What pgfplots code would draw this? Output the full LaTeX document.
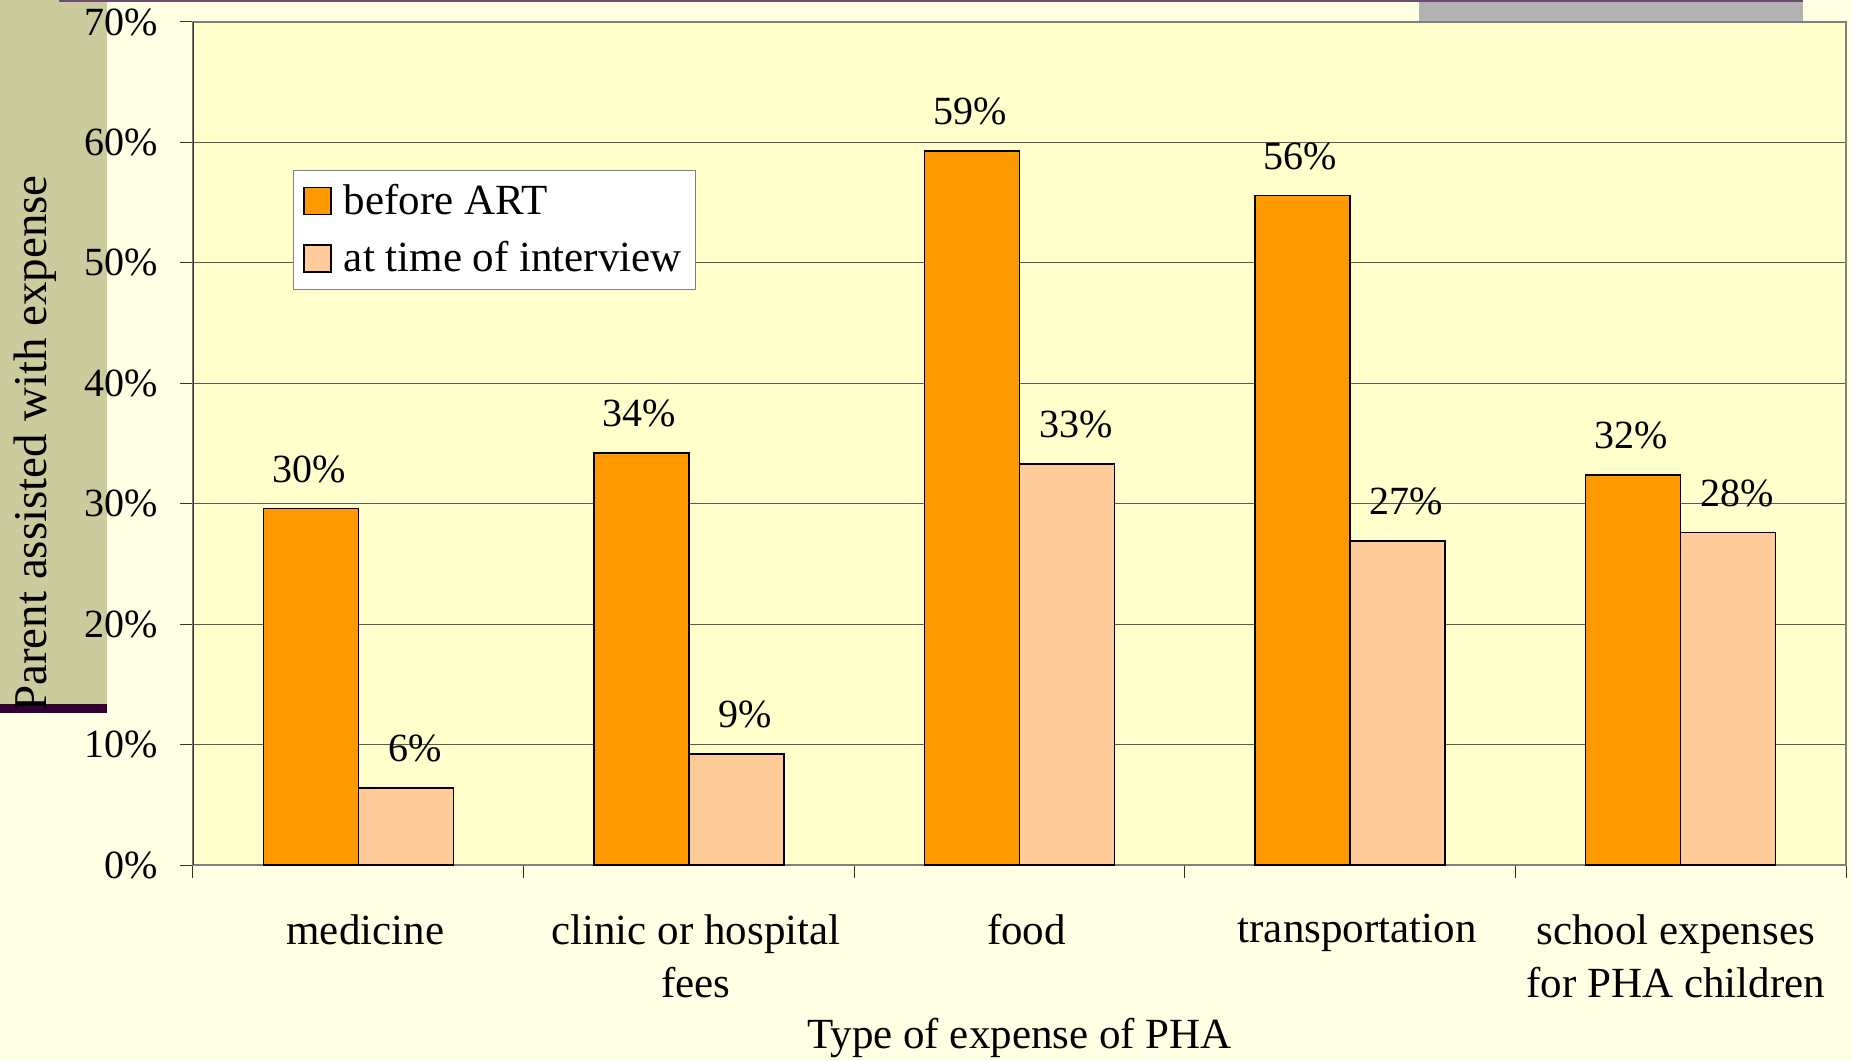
\documentclass[border=0pt]{standalone}
\usepackage{fontspec}
\setmainfont{Liberation Serif}
\usepackage{pgfplots}
\pgfplotsset{compat=1.18}
\definecolor{bgout}{HTML}{FFFFE3}
\definecolor{bgplot}{HTML}{FFFFCC}
\definecolor{olivebox}{HTML}{CBCB9E}
\definecolor{darkpurple}{HTML}{330033}
\definecolor{toppurple}{HTML}{6B4E6B}
\definecolor{grayrect}{HTML}{B2B2B2}
\definecolor{orangebar}{HTML}{FF9900}
\definecolor{peachbar}{HTML}{FFCC99}
\newcommand{\tf}{\fontsize{20}{24}\selectfont}
\newcommand{\lf}{\fontsize{21.5}{26}\selectfont}
\begin{document}
\begin{tikzpicture}
\useasboundingbox (0,0) rectangle (926pt,530pt);
\fill[bgout] (0,0) rectangle (926pt,530pt);
\fill[olivebox] (0,178pt) rectangle (53.5pt,530pt);
\fill[darkpurple] (0,173.5pt) rectangle (53.5pt,178pt);
\fill[grayrect] (709.5pt,519.5pt) rectangle (901.5pt,530pt);
\draw[toppurple, line width=1pt] (29.5pt,529.5pt) -- (901.5pt,529.5pt);
\begin{axis}[
  at={(96.5pt,97.5pt)}, anchor=south west,
  scale only axis, width=826.5pt, height=421.5pt,
  axis background/.style={fill=bgplot},
  axis line style={draw=black!50, line width=1pt},
  ymin=0, ymax=70, ytick={0,10,...,70},
  yticklabel={\pgfmathprintnumber{\tick}\%},
  xmin=-0.5, xmax=4.5,
  xtick={-0.5,0.5,1.5,2.5,3.5,4.5},
  x tick label as interval,
  xticklabels={medicine,{clinic or hospital\\fees},food,transportation,{\hspace*{-12pt}school expenses\\\hspace*{-12pt}for PHA children}},
  tick align=outside, tick pos=left,
  major tick length=6.5pt,
  tick style={black!80, line width=0.5pt},
  ymajorgrids,
  major grid style={black!65, line width=0.5pt},
  /pgf/number format/assume math mode=true,
  yticklabel style={anchor=east, inner sep=0pt, xshift=-10.8pt, font=\tf},
  xticklabel style={align=center, anchor=north, inner sep=0pt, yshift=-18pt, xshift=3.5pt, font=\fontsize{21.5}{26.5}\selectfont},
  xlabel={Type of expense of PHA},
  xlabel style={at={(axis description cs:0.5,0)}, anchor=center, yshift=-86.5pt, font=\lf},
  ylabel={Parent assisted with expense},
  ylabel style={at={(axis description cs:-0.0952,0.5)}, anchor=center, font=\fontsize{23.5}{28}\selectfont},
  ybar=0pt, bar width=47.5pt,
  point meta=explicit symbolic,
  nodes near coords={\pgfplotspointmeta\%},
  every node near coord/.append style={font=\tf, inner sep=0pt, yshift=12.5pt, text=black},
  legend style={at={(axis description cs:0.0605,0.8244)}, anchor=north west,
    draw=black!50, fill=white, font=\lf, row sep=8pt, inner xsep=5pt, inner ysep=5pt},
  legend cell align=left,
]
\addplot[fill=orangebar, draw=black, line width=0.75pt,
  every node near coord/.append style={xshift=-1pt},
  legend image code/.code={\draw[fill=orangebar, draw=black, line width=0.75pt] (0pt,-6.75pt) rectangle (13.5pt,6.75pt); \path (17.5pt,0pt);}]
  coordinates {(0,29.6) [30] (1,34.2) [34] (2,59.3) [59] (3,55.6) [56] (4,32.4) [32]};
\addlegendentry{before ART}
\addplot[fill=peachbar, draw=black, line width=0.75pt,
  every node near coord/.append style={xshift=4.5pt},
  legend image code/.code={\draw[fill=peachbar, draw=black, line width=0.75pt] (0pt,-6.75pt) rectangle (13.5pt,6.75pt); \path (17.5pt,0pt);}]
  coordinates {(0,6.4) [6] (1,9.2) [9] (2,33.3) [33] (3,26.9) [27] (4,27.6) [28]};
\addlegendentry{at time of interview}
\draw[black!80, line width=0.75pt] (axis cs:-0.5,0) -- (axis cs:-0.5,70);
\end{axis}
\end{tikzpicture}
\end{document}
